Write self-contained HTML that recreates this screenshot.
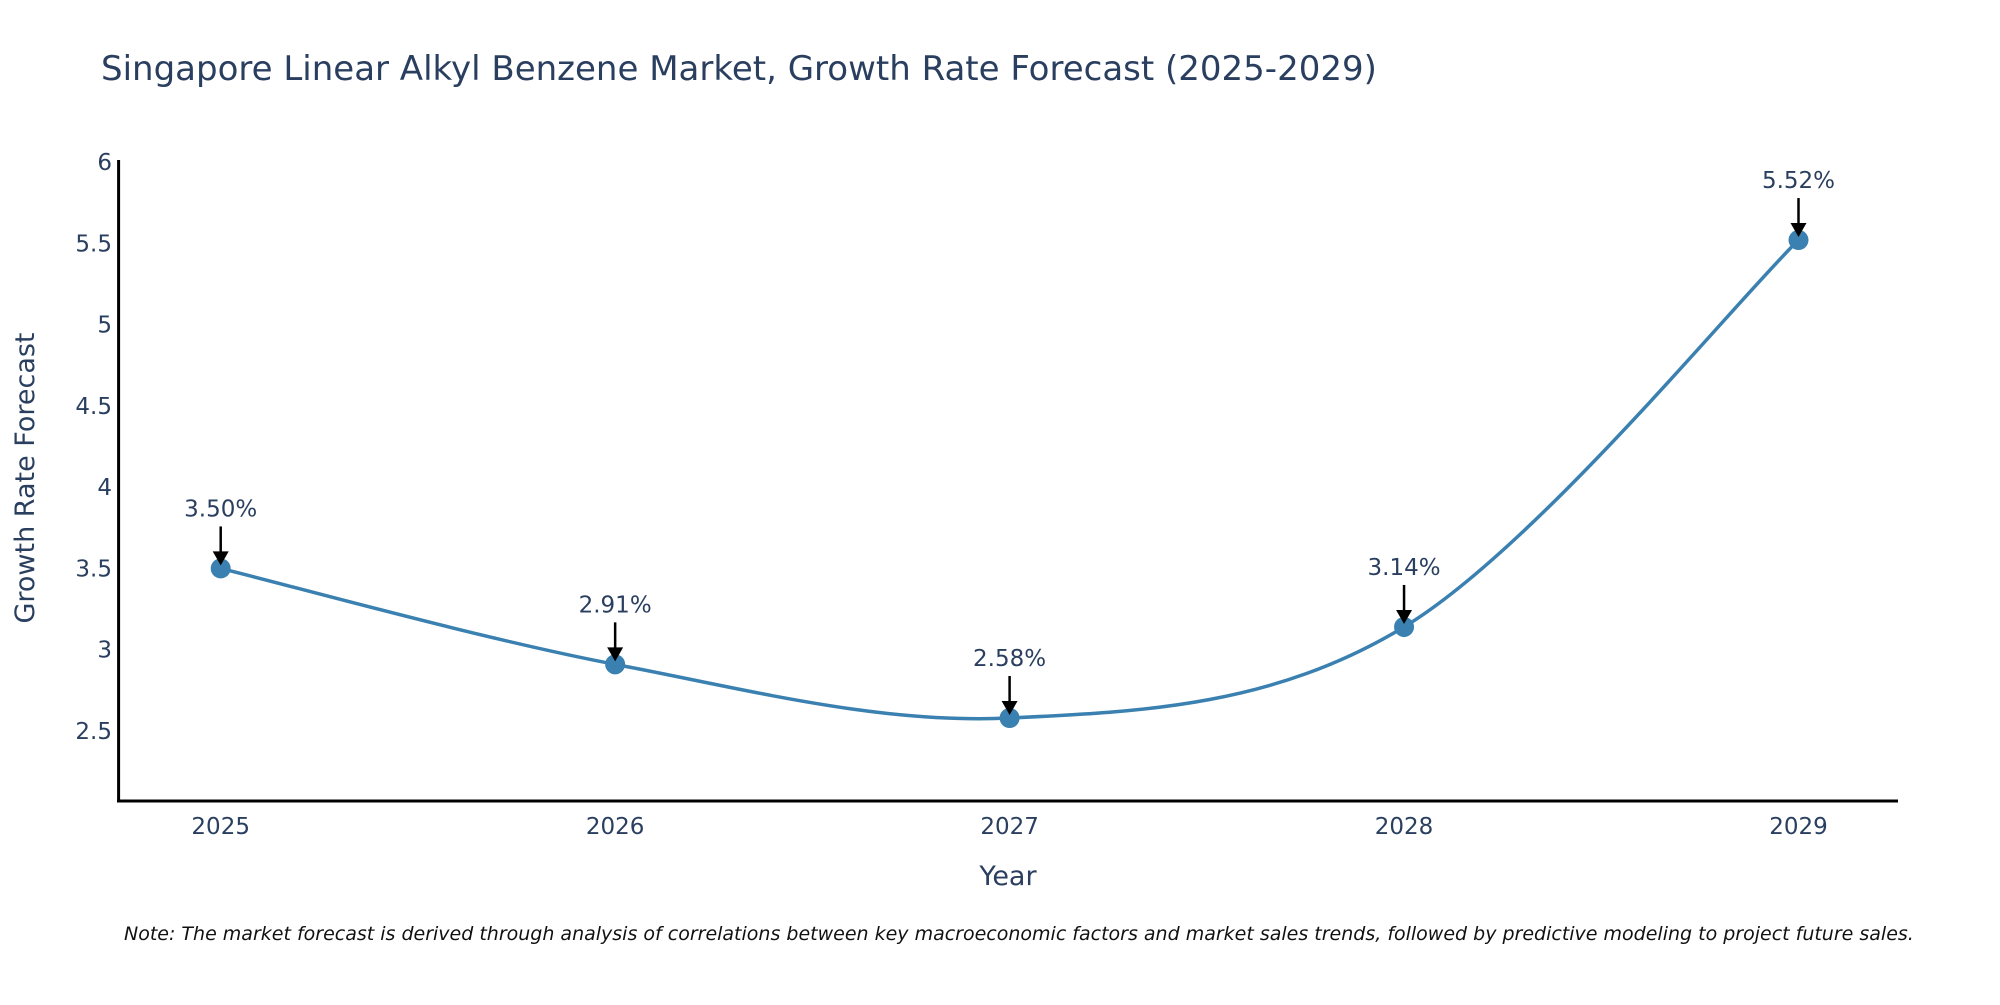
<!DOCTYPE html>
<html><head><meta charset="utf-8"><style>
body{margin:0;background:#fff;}
svg text{font-family:"DejaVu Sans","Liberation Sans",sans-serif;fill:#2a3f5f;}
</style></head><body>
<svg id="chart" width="2000" height="1000" xmlns="http://www.w3.org/2000/svg">
<text x="101" y="80" font-size="34">Singapore Linear Alkyl Benzene Market, Growth Rate Forecast (2025-2029)</text>
<g id="yticks"></g><g id="xticks"></g>
<line x1="118.6" y1="160" x2="118.6" y2="802" stroke="#000" stroke-width="3"/>
<line x1="117" y1="801" x2="1898" y2="801" stroke="#000" stroke-width="3"/>
<path id="line" fill="none" stroke="#3a80b0" stroke-width="3.5"/>
<g id="marks"></g>
<text x="1008" y="885" font-size="27" text-anchor="middle">Year</text>
<text transform="translate(34,478) rotate(-90)" font-size="27" text-anchor="middle">Growth Rate Forecast</text>
<text x="124" y="940" font-size="19" font-style="italic" style="fill:#111">Note: The market forecast is derived through analysis of correlations between key macroeconomic factors and market sales trends, followed by predictive modeling to project future sales.</text>
</svg>
<script>
const years=[2025,2026,2027,2028,2029];
const values=[3.50,2.91,2.58,3.14,5.52];
const labels=["3.50%","2.91%","2.58%","3.14%","5.52%"];
const yTicks=[2.5,3,3.5,4,4.5,5,5.5,6];
const NS="http://www.w3.org/2000/svg";
const x=v=>220.7+(v-2025)*394.45;
const y=v=>731-(v-2.5)*162.57;
const yt=document.getElementById('yticks');
yTicks.forEach(t=>{const e=document.createElementNS(NS,'text');
e.setAttribute('x',112);e.setAttribute('y',y(t)+8);e.setAttribute('font-size','23');e.setAttribute('text-anchor','end');e.textContent=String(t);


yt.appendChild(e);});
const xt=document.getElementById('xticks');
years.forEach(t=>{const e=document.createElementNS(NS,'text');
e.setAttribute('x',x(t));e.setAttribute('y',834);e.setAttribute('font-size','23');e.setAttribute('text-anchor','middle');e.textContent=String(t);


xt.appendChild(e);});
const P=years.map((yr,i)=>[x(yr),y(values[i])]);
let d='M'+P[0][0]+','+P[0][1];
for(let i=0;i<P.length-1;i++){const p0=P[Math.max(i-1,0)],p1=P[i],p2=P[i+1],p3=P[Math.min(i+2,P.length-1)];const k=1/6;
d+=' C'+(p1[0]+(p2[0]-p0[0])*k)+','+(p1[1]+(p2[1]-p0[1])*k)+' '+(p2[0]-(p3[0]-p1[0])*k)+','+(p2[1]-(p3[1]-p1[1])*k)+' '+p2[0]+','+p2[1];}
document.getElementById('line').setAttribute('d',d);
const m=document.getElementById('marks');
P.forEach((p,i)=>{
const c=document.createElementNS(NS,'circle');c.setAttribute('cx',p[0]);c.setAttribute('cy',p[1]);c.setAttribute('r',10);c.setAttribute('fill','#3a80b0');


m.appendChild(c);
const l=document.createElementNS(NS,'line');l.setAttribute('x1',p[0]);l.setAttribute('x2',p[0]);l.setAttribute('y1',p[1]-42);l.setAttribute('y2',p[1]-14);l.setAttribute('stroke','#000');l.setAttribute('stroke-width','2.5');


m.appendChild(l);
const h=document.createElementNS(NS,'polygon');h.setAttribute('points',(p[0]-8)+','+(p[1]-17)+' '+(p[0]+8)+','+(p[1]-17)+' '+p[0]+','+(p[1]-3));h.setAttribute('fill','#000');


m.appendChild(h);
const t=document.createElementNS(NS,'text');t.setAttribute('x',p[0]);t.setAttribute('y',p[1]-52);t.setAttribute('font-size','23');t.setAttribute('text-anchor','middle');t.textContent=labels[i];


m.appendChild(t);});
</script>
</body></html>
